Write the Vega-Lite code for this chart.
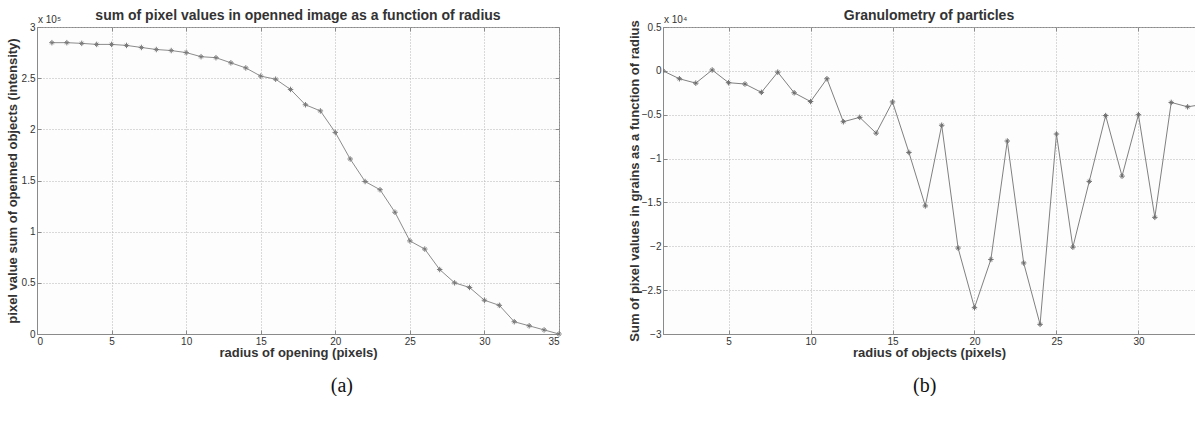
{
  "$schema": "https://vega.github.io/schema/vega-lite/v6.json",
  "background": "white",
  "padding": {"left": 5, "top": 8, "right": 0, "bottom": 0},
  "config": {
    "font": "Liberation Sans",
    "view": {"stroke": "#8a8a8a", "strokeWidth": 1, "fill": "#fdfdfd"},
    "axis": {
      "grid": true,
      "gridColor": "#b4b4b4",
      "gridDash": [1, 2],
      "gridWidth": 1,
      "domainColor": "#8a8a8a",
      "tickColor": "#8a8a8a",
      "tickSize": -4,
      "labelFontSize": 10,
      "labelColor": "#333333",
      "labelPadding": 6,
      "titleFontSize": 13,
      "titleFontWeight": "bold",
      "titleColor": "#333333"
    },
    "title": {"fontSize": 14, "fontWeight": "bold", "color": "#333333", "offset": -8}
  },
  "spacing": 62,
  "hconcat": [
    {
      "title": {"text": "(a)", "orient": "bottom", "anchor": "middle", "font": "Liberation Serif", "fontSize": 20, "fontWeight": "normal", "color": "#111111", "dx": 57, "offset": 16},
      "vconcat": [
        {
          "title": {"text": "sum of pixel values in openned image as a function of radius"},
          "width": 522,
          "height": 307,
          "data": {"values": [
            {"radius": 1, "sum": 2.847}, {"radius": 2, "sum": 2.847}, {"radius": 3, "sum": 2.84},
            {"radius": 4, "sum": 2.83}, {"radius": 5, "sum": 2.83}, {"radius": 6, "sum": 2.82},
            {"radius": 7, "sum": 2.80}, {"radius": 8, "sum": 2.78}, {"radius": 9, "sum": 2.77},
            {"radius": 10, "sum": 2.75}, {"radius": 11, "sum": 2.71}, {"radius": 12, "sum": 2.70},
            {"radius": 13, "sum": 2.65}, {"radius": 14, "sum": 2.60}, {"radius": 15, "sum": 2.52},
            {"radius": 16, "sum": 2.49}, {"radius": 17, "sum": 2.39}, {"radius": 18, "sum": 2.24},
            {"radius": 19, "sum": 2.18}, {"radius": 20, "sum": 1.97}, {"radius": 21, "sum": 1.71},
            {"radius": 22, "sum": 1.49}, {"radius": 23, "sum": 1.41}, {"radius": 24, "sum": 1.19},
            {"radius": 25, "sum": 0.91}, {"radius": 26, "sum": 0.83}, {"radius": 27, "sum": 0.63},
            {"radius": 28, "sum": 0.50}, {"radius": 29, "sum": 0.455}, {"radius": 30, "sum": 0.33},
            {"radius": 31, "sum": 0.28}, {"radius": 32, "sum": 0.12}, {"radius": 33, "sum": 0.08},
            {"radius": 34, "sum": 0.04}, {"radius": 35, "sum": 0.0}
          ]},
          "resolve": {"axis": {"x": "independent", "y": "independent"}},
          "layer": [
            {
              "mark": {"type": "line", "color": "#8c8c8c", "strokeWidth": 1},
              "encoding": {
                "x": {"field": "radius", "type": "quantitative", "scale": {"domain": [0, 35], "nice": false},
                      "axis": {"orient": "bottom", "values": [0, 5, 10, 15, 20, 25, 30, 35], "title": "radius of opening (pixels)", "titlePadding": 0}},
                "y": {"field": "sum", "type": "quantitative", "scale": {"domain": [0, 3], "nice": false},
                      "axis": {"orient": "left", "values": [0, 0.5, 1, 1.5, 2, 2.5, 3], "format": "~g", "title": "pixel value sum of openned objects (intensity)", "titlePadding": 2}}
              }
            },
            {
              "mark": {"type": "point", "shape": "M-1,0L1,0M0,-1L0,1M-0.6,-0.6L0.6,0.6M-0.6,0.6L0.6,-0.6", "filled": false, "color": "#7a7a7a", "size": 30, "strokeWidth": 1, "opacity": 1},
              "encoding": {
                "x": {"field": "radius", "type": "quantitative",
                      "axis": {"orient": "top", "values": [0, 5, 10, 15, 20, 25, 30, 35], "labels": false, "grid": false, "domain": false, "title": null}},
                "y": {"field": "sum", "type": "quantitative",
                      "axis": {"orient": "right", "values": [0, 0.5, 1, 1.5, 2, 2.5, 3], "labels": false, "grid": false, "domain": false, "title": null}}
              }
            },
            {
              "data": {"values": [{"label": "x 10⁵"}]},
              "mark": {"type": "text", "align": "left", "baseline": "bottom", "dy": -2, "dx": 1, "fontSize": 10, "color": "#333333"},
              "encoding": {
                "x": {"datum": 0, "axis": null},
                "y": {"datum": 3, "axis": null},
                "text": {"field": "label"}
              }
            }
          ]
        }
      ]
    },
    {
      "title": {"text": "(b)", "orient": "bottom", "anchor": "middle", "font": "Liberation Serif", "fontSize": 20, "fontWeight": "normal", "color": "#111111", "dx": 13, "offset": 16},
      "vconcat": [
        {
          "title": {"text": "Granulometry of particles"},
          "width": 532,
          "height": 307,
          "data": {"values": [
            {"radius": 1, "value": 0.0}, {"radius": 2, "value": -0.09}, {"radius": 3, "value": -0.14},
            {"radius": 4, "value": 0.01}, {"radius": 5, "value": -0.135}, {"radius": 6, "value": -0.15},
            {"radius": 7, "value": -0.245}, {"radius": 8, "value": -0.015}, {"radius": 9, "value": -0.25},
            {"radius": 10, "value": -0.35}, {"radius": 11, "value": -0.09}, {"radius": 12, "value": -0.58},
            {"radius": 13, "value": -0.53}, {"radius": 14, "value": -0.71}, {"radius": 15, "value": -0.354},
            {"radius": 16, "value": -0.93}, {"radius": 17, "value": -1.54}, {"radius": 18, "value": -0.62},
            {"radius": 19, "value": -2.02}, {"radius": 20, "value": -2.70}, {"radius": 21, "value": -2.15},
            {"radius": 22, "value": -0.80}, {"radius": 23, "value": -2.19}, {"radius": 24, "value": -2.89},
            {"radius": 25, "value": -0.72}, {"radius": 26, "value": -2.01}, {"radius": 27, "value": -1.26},
            {"radius": 28, "value": -0.51}, {"radius": 29, "value": -1.20}, {"radius": 30, "value": -0.50},
            {"radius": 31, "value": -1.67}, {"radius": 32, "value": -0.36}, {"radius": 33, "value": -0.41},
            {"radius": 34, "value": -0.38}
          ]},
          "resolve": {"axis": {"x": "independent"}},
          "layer": [
            {
              "mark": {"type": "line", "color": "#808080", "strokeWidth": 1, "clip": true},
              "encoding": {
                "x": {"field": "radius", "type": "quantitative", "scale": {"domain": [1, 33.45], "nice": false, "zero": false},
                      "axis": {"orient": "bottom", "values": [5, 10, 15, 20, 25, 30], "title": "radius of objects (pixels)", "titlePadding": 0}},
                "y": {"field": "value", "type": "quantitative", "scale": {"domain": [-3, 0.5], "nice": false},
                      "axis": {"values": [-3, -2.5, -2, -1.5, -1, -0.5, 0, 0.5], "format": "~g", "title": "Sum of pixel values in grains as a function of radius", "titlePadding": 0}}
              }
            },
            {
              "mark": {"type": "point", "shape": "M-1,0L1,0M0,-1L0,1M-0.6,-0.6L0.6,0.6M-0.6,0.6L0.6,-0.6", "filled": false, "color": "#6e6e6e", "size": 30, "strokeWidth": 1, "opacity": 1, "clip": true},
              "encoding": {
                "x": {"field": "radius", "type": "quantitative",
                      "axis": {"orient": "top", "values": [5, 10, 15, 20, 25, 30], "labels": false, "grid": false, "domain": false, "title": null}},
                "y": {"field": "value", "type": "quantitative"}
              }
            },
            {
              "data": {"values": [{"label": "x 10⁴"}]},
              "mark": {"type": "text", "align": "left", "baseline": "bottom", "dy": -2, "dx": 1, "fontSize": 10, "color": "#333333"},
              "encoding": {
                "x": {"datum": 1, "axis": null},
                "y": {"datum": 0.5},
                "text": {"field": "label"}
              }
            }
          ]
        }
      ]
    }
  ]
}
